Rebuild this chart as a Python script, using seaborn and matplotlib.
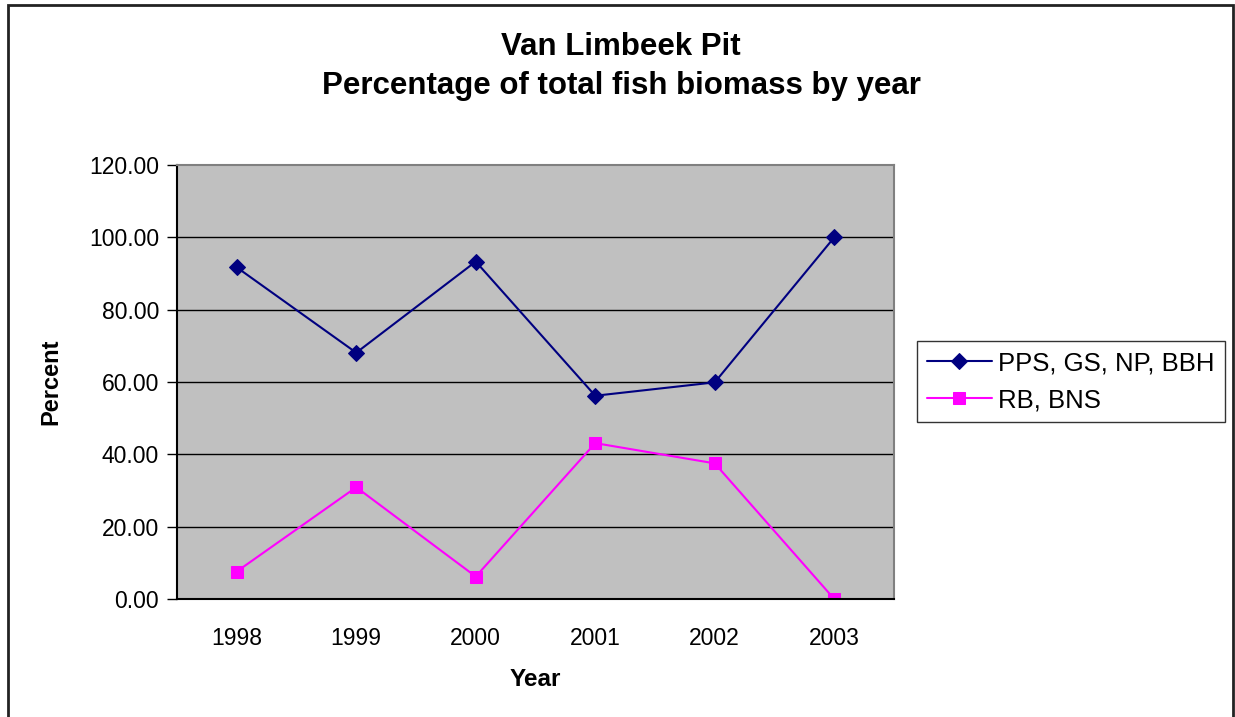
import matplotlib
matplotlib.use("Agg")
import matplotlib.pyplot as plt
import seaborn as sns
import pandas as pd
import numpy as np
from matplotlib.patches import Rectangle

years = ["1998", "1999", "2000", "2001", "2002", "2003"]
series_a_name = "PPS, GS, NP, BBH"
series_a = [91.7, 68.1, 93.3, 56.2, 59.9, 100.0]
series_b_name = "RB, BNS"
series_b = [7.6, 30.9, 6.2, 43.1, 37.5, 0.0]
yticks = [0, 20, 40, 60, 80, 100, 120]

sns.set_theme(style="white")
plt.rcParams["font.family"] = ["Liberation Sans", "DejaVu Sans"]
plt.rcParams["text.color"] = "black"
plt.rcParams["axes.labelcolor"] = "black"
plt.rcParams["xtick.color"] = "black"
plt.rcParams["ytick.color"] = "black"

W, H = 1235, 717
fig = plt.figure(figsize=(W / 100, H / 100), dpi=100)
ax = fig.add_axes([177 / W, 1 - 599 / H, (894 - 177) / W, (599 - 165) / H])
ax.set_facecolor("#C0C0C0")

df = pd.DataFrame({"x": np.arange(len(years)), "a": series_a, "b": series_b})
sns.lineplot(data=df, x="x", y="a", ax=ax, color="#000080", marker="D",
             markersize=8.5, markeredgecolor="#000080", linewidth=1.5,
             label=series_a_name)
sns.lineplot(data=df, x="x", y="b", ax=ax, color="#FF00FF", marker="s",
             markersize=8, markeredgecolor="#FF00FF", linewidth=1.5,
             label=series_b_name)

ax.set_xlim(-0.5, len(years) - 0.5)
ax.set_ylim(0, 120)
ax.set_yticks(yticks)
ax.set_yticklabels([f"{v:.2f}" for v in yticks], fontsize=16.5)
ax.set_xticks(np.arange(len(years)))
ax.set_xticklabels(years, fontsize=16.5)
ax.set_xticks(np.arange(-0.5, len(years)), minor=True)
ax.tick_params(axis="x", which="major", length=0, pad=20)
ax.tick_params(axis="x", which="minor", length=7, width=1, color="black", direction="out")
ax.tick_params(axis="y", length=7, width=1, color="black", direction="out", left=True, pad=6)

for v in yticks[1:-1]:
    ax.axhline(v, color="black", linewidth=1, zorder=1)

for s in ["top", "right"]:
    ax.spines[s].set_color("#808080")
    ax.spines[s].set_linewidth(1.5)
for s in ["left", "bottom"]:
    ax.spines[s].set_color("black")
    ax.spines[s].set_linewidth(1.5)
    ax.spines[s].set_visible(True)

ax.set_xlabel("Year", fontsize=17.5, fontweight="bold", labelpad=13)
ax.set_ylabel("Percent", fontsize=17, fontweight="bold", labelpad=19)

fig.text(621 / W, 1 - 47 / H, "Van Limbeek Pit", ha="center", va="center",
         fontsize=22.5, fontweight="bold")
fig.text(621 / W, 1 - 86 / H, "Percentage of total fish biomass by year",
         ha="center", va="center", fontsize=22.5, fontweight="bold")

ax.get_legend().remove()
h, l = ax.get_legend_handles_labels()
leg = fig.legend(h, l, loc="upper left", bbox_to_anchor=(917 / W, 1 - 341 / H),
                 fontsize=18.5, frameon=True, fancybox=False, edgecolor="black",
                 handlelength=2.5, borderpad=0.4, labelspacing=0.5,
                 handletextpad=0.25, borderaxespad=0)
leg.get_frame().set_linewidth(1)

fig.patches.append(Rectangle((8 / W, -0.1), (1233 - 8) / W, 1.1 - 5 / H,
                             transform=fig.transFigure, fill=False,
                             edgecolor="#222222", linewidth=2))

fig.savefig("out.png", dpi=100)
